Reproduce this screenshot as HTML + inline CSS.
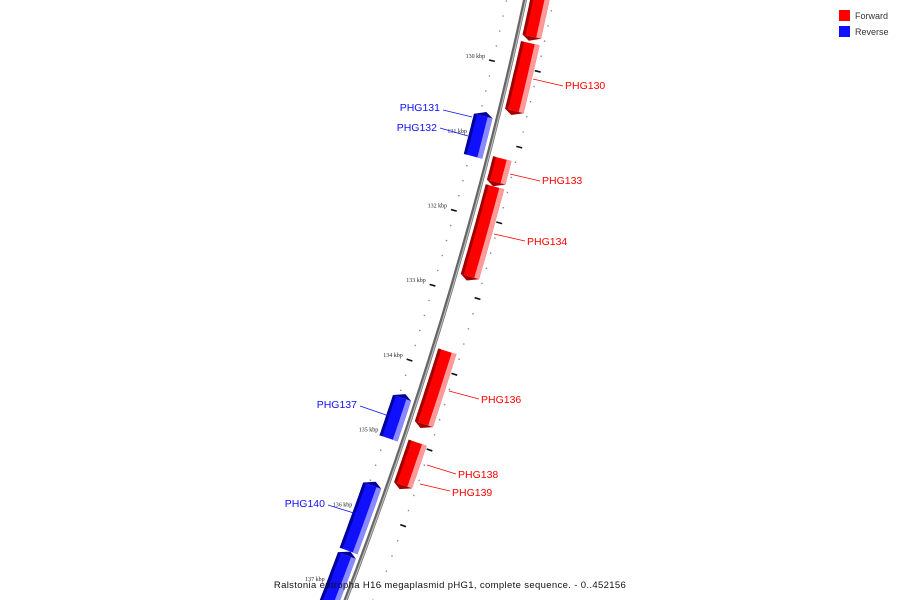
<!DOCTYPE html>
<html><head><meta charset="utf-8"><style>
html,body{margin:0;padding:0;background:#fff;width:900px;height:600px;overflow:hidden;}
svg{display:block;font-family:"Liberation Sans","DejaVu Sans",sans-serif;overflow:hidden;}
</style></head><body>
<svg id="chart" width="900" height="600" viewBox="0 0 900 600" xmlns="http://www.w3.org/2000/svg">
<g id="ticks"></g>
<g id="backbone"></g>
<g id="features"></g>
<g id="labels">
<line x1="533" y1="79" x2="563" y2="86" stroke="#ff0000" stroke-width="0.8"/>
<text x="565" y="89" font-size="10.5" fill="#ff0000">PHG130</text>
<line x1="443" y1="110" x2="472" y2="117" stroke="#1010ff" stroke-width="0.8"/>
<text x="440" y="111" font-size="10.5" text-anchor="end" fill="#1010ff">PHG131</text>
<line x1="440" y1="128" x2="468" y2="136" stroke="#1010ff" stroke-width="0.8"/>
<text x="437" y="131" font-size="10.5" text-anchor="end" fill="#1010ff">PHG132</text>
<line x1="510" y1="174" x2="540" y2="181" stroke="#ff0000" stroke-width="0.8"/>
<text x="542" y="184" font-size="10.5" fill="#ff0000">PHG133</text>
<line x1="494" y1="234" x2="525" y2="241" stroke="#ff0000" stroke-width="0.8"/>
<text x="527" y="245" font-size="10.5" fill="#ff0000">PHG134</text>
<line x1="449" y1="391" x2="479" y2="399" stroke="#ff0000" stroke-width="0.8"/>
<text x="481" y="403" font-size="10.5" fill="#ff0000">PHG136</text>
<line x1="360" y1="406" x2="389" y2="416" stroke="#1010ff" stroke-width="0.8"/>
<text x="357" y="408" font-size="10.5" text-anchor="end" fill="#1010ff">PHG137</text>
<line x1="427" y1="465" x2="456" y2="474" stroke="#ff0000" stroke-width="0.8"/>
<text x="458" y="478" font-size="10.5" fill="#ff0000">PHG138</text>
<line x1="420" y1="484" x2="450" y2="491" stroke="#ff0000" stroke-width="0.8"/>
<text x="452" y="496" font-size="10.5" fill="#ff0000">PHG139</text>
<line x1="328" y1="505" x2="357" y2="514" stroke="#1010ff" stroke-width="0.8"/>
<text x="325" y="507" font-size="10.5" text-anchor="end" fill="#1010ff">PHG140</text>
</g>
<g>
<rect x="839" y="10" width="11" height="11" fill="#ff0000"/>
<text x="855" y="19" font-size="9" fill="#333">Forward</text>
<rect x="839" y="26" width="11" height="11" fill="#1010ff"/>
<text x="855" y="35" font-size="9" fill="#333">Reverse</text>
</g>
<text x="450" y="588" font-size="9.5" text-anchor="middle" letter-spacing="0.35" fill="#111">Ralstonia eutropha H16 megaplasmid pHG1, complete sequence. - 0..452156</text>
</svg>
<script>
const featureNames = ["PHG129","PHG130","PHG132","PHG133","PHG134","PHG136","PHG137","PHG138","PHG140","PHG141"];
const featureStart = [129.0,129.668,130.665,131.197,131.569,133.75,134.428,134.96,135.598,136.529];
const featureEnd   = [129.64,130.625,131.263,131.569,132.819,134.774,135.027,135.585,136.529,137.6];
const featureStrand = [1,1,-1,1,1,1,-1,1,-1,-1];
const majorTicks = [129,130,131,132,133,134,135,136,137];
const majorTickLabels = ["129 kbp","130 kbp","131 kbp","132 kbp","133 kbp","134 kbp","135 kbp","136 kbp","137 kbp"];

const NS="http://www.w3.org/2000/svg";
function yOf(pos){return 65+(pos-130)*75.2;}
function X(y){return 525-0.215*y-0.00014*y*y;}
function dX(y){return -0.215-0.00028*y;}
function pt(pos,off){const y=yOf(pos),x=X(y),s=dX(y),n=Math.sqrt(1+s*s);return [x+off/n,y-off*s/n];}
function mk(tag,attrs,parent){const e=document.createElementNS(NS,tag);for(const k in attrs)e.setAttribute(k,attrs[k]);parent.appendChild(e);return e;}
function band(p0,p1,o0,o1){const pts=[];const N=12;for(let i=0;i<=N;i++){pts.push(pt(p0+(p1-p0)*i/N,o0));}for(let i=N;i>=0;i--){pts.push(pt(p0+(p1-p0)*i/N,o1));}return pts.map(p=>p[0].toFixed(1)+","+p[1].toFixed(1)).join(" ");}

const gT=document.getElementById('ticks');
for(let p=128.6;p<=137.6;p+=0.2){
  const pr=Math.round(p*10)/10;
  if(Math.abs(pr-Math.round(pr))<0.01) continue;
  [-18,28].forEach(o=>{const q=pt(pr,o);
    const d=mk('circle',{cx:q[0].toFixed(1),cy:q[1].toFixed(1),r:0.8,fill:'#888'},gT);
    
    });
}
majorTicks.forEach((m,i)=>{
  [[-22,-16],[25,31]].forEach(([a,b])=>{const q0=pt(m,a),q1=pt(m,b);
    const l=mk('line',{x1:q0[0],y1:q0[1],x2:q1[0],y2:q1[1],stroke:'#111','stroke-width':1.6},gT);
    
    });
  const q=pt(m,-26);
  const t=mk('text',{x:q[0].toFixed(1),y:(q[1]-1).toFixed(1),'font-size':6,'text-anchor':'end',fill:'#222','font-family':'Liberation Serif, serif'},gT);
  t.textContent=majorTickLabels[i];
  
  
});

const gB=document.getElementById('backbone');
let bb=[];for(let y=-10;y<=610;y+=10)bb.push(X(y).toFixed(1)+","+y);
const b1=mk('polyline',{points:bb.join(" "),fill:'none',stroke:'#666','stroke-width':4},gB);


const b2=mk('polyline',{points:bb.join(" "),fill:'none',stroke:'#bbb','stroke-width':1.2,transform:'translate(0.8,0)'},gB);



const gF=document.getElementById('features');
featureNames.forEach((nm,i)=>{
  const s=featureStart[i],e=featureEnd[i],st=featureStrand[i];
  const base=st>0?'#ff0000':'#1010ff', dark=st>0?'#a00000':'#00009a', light=st>0?'#ff9a9a':'#8a8aff';
  const o=st>0?[5,24]:[-24,-5];
  const g=mk('g',{},gF);
  
  
  const head=0.06;
  const a=st>0?s:s+head, b=st>0?e-head:e;
  mk('polygon',{points:band(a,b,o[0],o[1]),fill:base},g);
  mk('polygon',{points:band(a,b,o[0],o[0]+3),fill:dark},g);
  mk('polygon',{points:band(a,b,o[1]-5,o[1]),fill:light},g);
  const tip=st>0?pt(e,(o[0]+o[1])/2-2):pt(s,(o[0]+o[1])/2+2);
  const c0=pt(st>0?b:a,o[0]),c1=pt(st>0?b:a,o[1]);
  mk('polygon',{points:[c0,c1,tip].map(p=>p[0].toFixed(1)+","+p[1].toFixed(1)).join(" "),fill:dark},g);
});
</script>
</body></html>
